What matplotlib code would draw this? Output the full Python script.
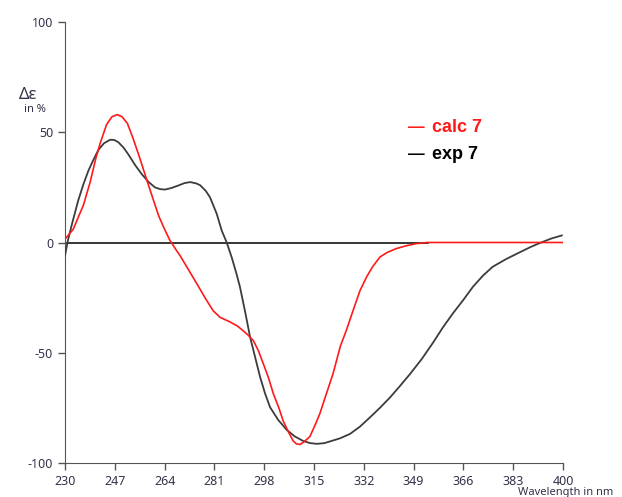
import matplotlib.pyplot as plt
import numpy as np

# calculated ECD (red)
calc_wl = [230, 232.8, 236.3, 238.5, 240.5, 242, 244.2, 246, 247.8, 249.5, 251.3, 253.3,
           255.6, 258, 260, 262, 264, 265.8, 268, 269.3, 272, 275, 278, 280.6, 283, 286.3,
           289, 290.8, 292.5, 294.3, 296, 297.7, 299.5, 301.1, 303, 304.5, 306.3, 307.9,
           309, 310.2, 311.5, 313.6, 315.3, 317, 319, 321.5, 324, 326, 328.3, 330.7, 333,
           335, 337.5, 340, 343, 346.7, 350, 353.6, 400]
calc_val = [1.5, 6, 17, 27, 38, 45, 53.5, 57, 58, 57, 54, 47,
            38, 28, 20, 12, 6, 1, -3.5, -6, -12, -18.7, -25.5, -31, -34, -36,
            -38, -40, -42, -44.5, -49, -55, -61.5, -68.5, -75, -81, -86, -90,
            -91.3, -91.6, -90.5, -88, -83, -77.6, -69.5, -59.5, -47, -40, -31, -21.8, -15.5,
            -11, -6.6, -4.5, -2.8, -1.4, -0.5, 0, 0]

# experimental ECD (black)
exp_wl = [230, 231, 232.5, 234.5, 236.3, 238, 239.7, 241.4, 243.3, 245.4, 246.8, 248.2,
          250, 251.6, 254, 256.2, 258.5, 260.7, 262.5, 264.1, 266.3, 268.6, 270.7, 272.7,
          274.8, 276.1, 278, 279.5, 281.8, 283.5, 285.2, 286.9, 288.5, 289.7, 291.5, 293.2,
          295, 296.6, 298.3, 300, 302.8, 305.7, 308.5, 311.3, 313.7, 316, 318.5, 320.5,
          323.9, 327.3, 330.7, 334.1, 337.5, 341, 344.4, 347.8, 351.7, 355.6, 359, 362.5,
          366, 369.3, 372.7, 376, 380.6, 385.3, 389, 392, 396, 399.6]
exp_val = [-6, 1, 9, 19, 26.5, 32.6, 37.5, 42, 45, 46.6, 46.5, 45.5,
           43, 40, 35, 31, 27.5, 25, 24.2, 24, 24.7, 25.8, 26.9, 27.4,
           26.8, 26, 23.5, 20.5, 13, 5.4, 0, -6.7, -14, -20, -31.5, -43,
           -52.5, -61, -68.5, -74.7, -80.5, -85, -88, -90, -91, -91.3, -91, -90.2,
           -88.8, -86.8, -83.5, -79.3, -75, -70.2, -65, -59.6, -53, -45.5, -38.5, -32,
           -26, -20, -15, -11, -7.5, -4.4, -2, -0.3, 1.8, 3.2]

xticks = [230, 247, 264, 281, 298, 315, 332, 349, 366, 383, 400]
yticks = [-100, -50, 0, 50, 100]

plt.rcParams['font.family'] = ['Noto Sans', 'DejaVu Sans']

fig = plt.figure(figsize=(6.22, 4.97), dpi=100)
ax = fig.add_axes([65 / 622, 1 - 463 / 497, 498 / 622, 441 / 497])

ax.plot([230, 354], [0, 0], color='black', lw=1.1, zorder=2)
ax.plot(exp_wl, exp_val, color='#3c3c3c', lw=1.3, zorder=3)
ax.plot(calc_wl, calc_val, color='#ff1a1a', lw=1.2, zorder=4)

ax.set_xlim(230, 400)
ax.set_ylim(-100, 100)
ax.set_xticks(xticks)
ax.set_yticks(yticks)
ax.set_yticklabels([str(v) for v in yticks])
ax.tick_params(labelsize=9, labelcolor='#33334a', color='#555555', length=5, width=1)
ax.spines['top'].set_visible(False)
ax.spines['right'].set_visible(False)
ax.spines['left'].set_color('#555555')
ax.spines['bottom'].set_color('#555555')

# y label: delta epsilon over "in %"
fig.text(19 / 622, 1 - 95 / 497, '\u0394\u03b5', fontsize=12, color='#33334a', va='center')
fig.text(24 / 622, 1 - 109 / 497, 'in %', fontsize=8, color='#33334a', va='center')
fig.text(518 / 622, 1 - 487 / 497, 'Wavelength in nm', fontsize=8, color='#33334a', va='top')

# legend
fig.text(408 / 622, 1 - 128 / 497, '\u2014 ', fontsize=12, color='#ff1a1a', fontweight='bold',
         va='center', family='Liberation Sans')
fig.text(432 / 622, 1 - 128 / 497, 'calc 7', fontsize=13, color='#ff1a1a', fontweight='bold',
         va='center', family='Liberation Sans')
fig.text(408 / 622, 1 - 155 / 497, '\u2014 ', fontsize=12, color='black', fontweight='bold',
         va='center', family='Liberation Sans')
fig.text(432 / 622, 1 - 155 / 497, 'exp 7', fontsize=13, color='black', fontweight='bold',
         va='center', family='Liberation Sans')

fig.savefig('out.png', dpi=100)
